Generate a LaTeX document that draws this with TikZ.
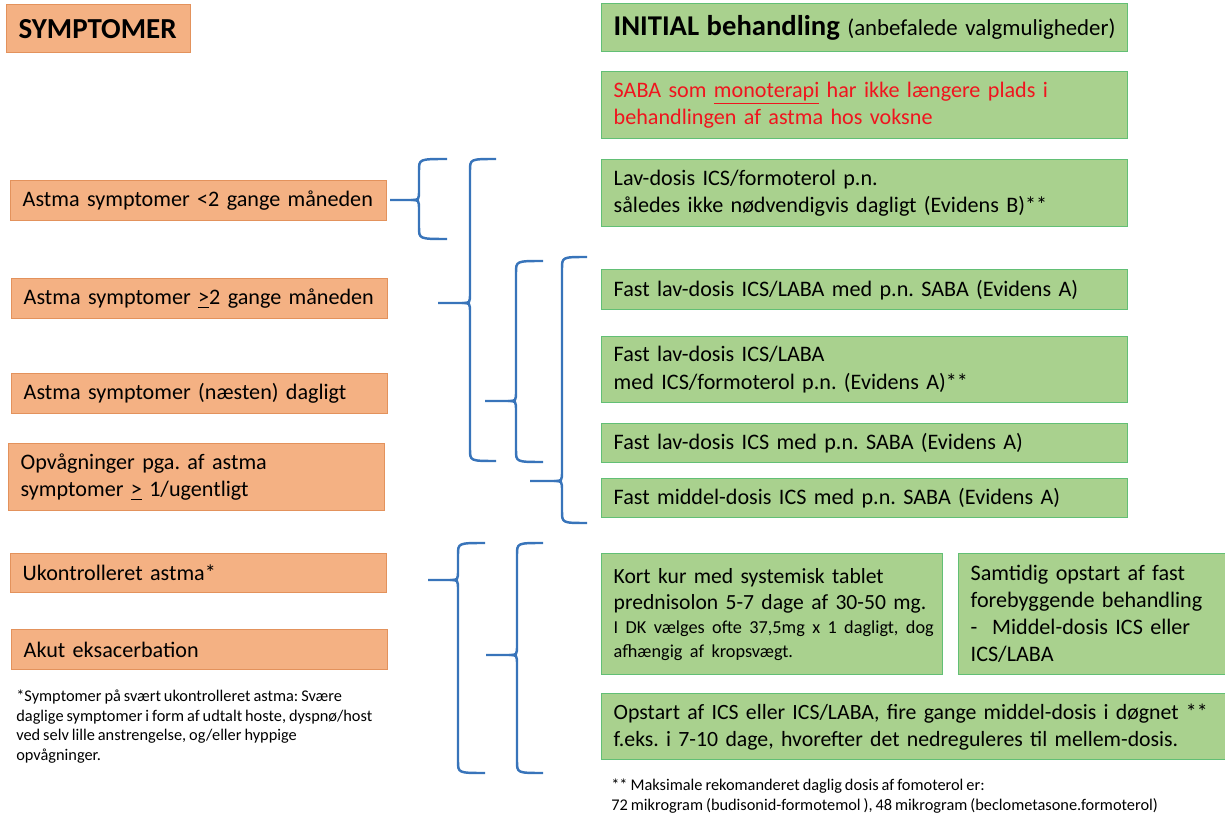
\documentclass[tikz,border=0pt]{standalone}
\usepackage{fontspec}
\setmainfont{Carlito}[WordSpace=0.8]
\usetikzlibrary{positioning}
\frenchspacing
\definecolor{symFill}{HTML}{F4B183}
\definecolor{symLine}{HTML}{E3925C}
\definecolor{behFill}{HTML}{A9D18E}
\definecolor{behLine}{HTML}{62BF75}
\definecolor{braceBlue}{HTML}{3874BA}
\definecolor{warnRed}{HTML}{F0141E}
% curly brace: vertical x, end x, tip x, top y, tip y, bottom y
\newcommand{\curlybrace}[6]{%
  \draw[bracket] (#2,#4) .. controls (#1,#4) .. (#1,{#4+12}) -- (#1,{#5-10})
    .. controls (#1,#5) .. ({#1-8},#5) -- (#3,#5);
  \draw[bracket] ({#1-8},#5) .. controls (#1,#5) .. (#1,{#5+10}) -- (#1,{#6-12})
    .. controls (#1,#6) .. (#2,#6);}

\begin{document}
\begin{tikzpicture}[x=0.02cm,y=-0.02cm,font=\fontsize{12.6}{15.5}\selectfont,
  symp/.style={draw=symLine,fill=symFill,line width=0.8pt,anchor=north west,align=left,
    inner xsep=0.24cm,text width=7.04cm,minimum height=0.8cm},
  beh/.style={draw=behLine,fill=behFill,line width=0.8pt,anchor=north west,align=left,
    inner xsep=0.24cm,text width=10.04cm,minimum height=0.8cm},
  note/.style={anchor=north west,align=left,inner sep=0pt,font=\fontsize{9.3}{11.1}\selectfont},
  bracket/.style={draw=braceBlue,line width=1.4pt}]
\useasboundingbox (0,0) rectangle (1225,814);
% symptoms
\node[symp,text width=3.2cm,minimum height=0.96cm,font=\bfseries\fontsize{16.5}{20}\selectfont] (symHead) at (6,4) {SYMPTOMER};
\node[symp] (s1) at (10,180) {Astma symptomer <2 gange måneden};
\node[symp] (s2) at (11,278) {Astma symptomer \underline{>}2 gange måneden};
\node[symp] (s3) at (11,373) {Astma symptomer (næsten) dagligt};
\node[symp,minimum height=1.34cm] (s4) at (8,443) {Opvågninger pga. af astma\\symptomer \underline{>} 1/ugentligt};
\node[symp,minimum height=0.78cm] (s5) at (10,553) {Ukontrolleret astma*};
\node[symp] (s6) at (11,629) {Akut eksacerbation};
\node[note] (noteSym) at (16,690) {*Symptomer på svært ukontrolleret astma: Svære\\daglige symptomer i form af udtalt hoste, dyspnø/host\\ved selv lille anstrengelse, og/eller hyppige\\opvågninger.};
% treatment
\node[beh,minimum height=0.96cm,font=\fontsize{13}{16}\selectfont] (behHead) at (601,3) {{\bfseries\fontsize{16.3}{20}\selectfont INITIAL behandling} (anbefalede valgmuligheder)};
\node[beh,minimum height=1.34cm,text=warnRed] (saba) at (601,71) {SABA som \underline{monoterapi} har ikke længere plads i\\behandlingen af astma hos voksne};
\node[beh,minimum height=1.34cm] (t1) at (601,159) {Lav-dosis ICS/formoterol p.n.\\således ikke nødvendigvis dagligt (Evidens B)**};
\node[beh] (t2) at (601,269) {Fast lav-dosis ICS/LABA med p.n. SABA (Evidens A)};
\node[beh,minimum height=1.32cm] (t3) at (601,336) {Fast lav-dosis ICS/LABA\\med ICS/formoterol p.n. (Evidens A)**};
\node[beh,minimum height=0.78cm] (t4) at (601,423) {Fast lav-dosis ICS med p.n. SABA (Evidens A)};
\node[beh,minimum height=0.78cm] (t5) at (601,478) {Fast middel-dosis ICS med p.n. SABA (Evidens A)};
\node[beh,text width=6.34cm,minimum height=2.42cm] (t6) at (601,553) {\raggedright{\fontsize{12.3}{14.8}\selectfont \mbox{Kort kur med systemisk tablet}\\\mbox{prednisolon 5-7 dage af 30-50 mg.}\par}{\fontsize{10.4}{13.7}\selectfont \mbox{I DK vælges ofte 37,5mg x 1 dagligt, dog}\\\mbox{afhængig af kropsvægt.}\par}};
\node[beh,text width=5.2cm,minimum height=2.42cm,font=\fontsize{12.6}{15.4}\selectfont] (t7) at (958,553) {Samtidig opstart af fast\\forebyggende behandling\\-\ \ Middel-dosis ICS eller\\ICS/LABA};
\node[beh,text width=12.6cm,minimum height=1.32cm,font=\fontsize{12.4}{15.4}\selectfont] (t8) at (601,693) {Opstart af ICS eller ICS/LABA, fire gange middel-dosis i døgnet **\\f.eks. i 7-10 dage, hvorefter det nedreguleres til mellem-dosis.};
\node[note] (noteBeh) at (611,779) {** Maksimale rekomanderet daglig dosis af fomoterol er:\\72 mikrogram (budisonid-formotemol ), 48 mikrogram (beclometasone.formoterol)};
% braces
\curlybrace{419}{447}{390}{159}{200}{239}
\curlybrace{470}{496}{438}{159}{303}{461}
\curlybrace{516}{543}{485}{261}{401}{462}
\curlybrace{562}{587}{530}{257}{481}{523}
\curlybrace{458}{485}{428}{543}{580}{773}
\curlybrace{517}{543}{486}{543}{655}{773}
\end{tikzpicture}
\end{document}
